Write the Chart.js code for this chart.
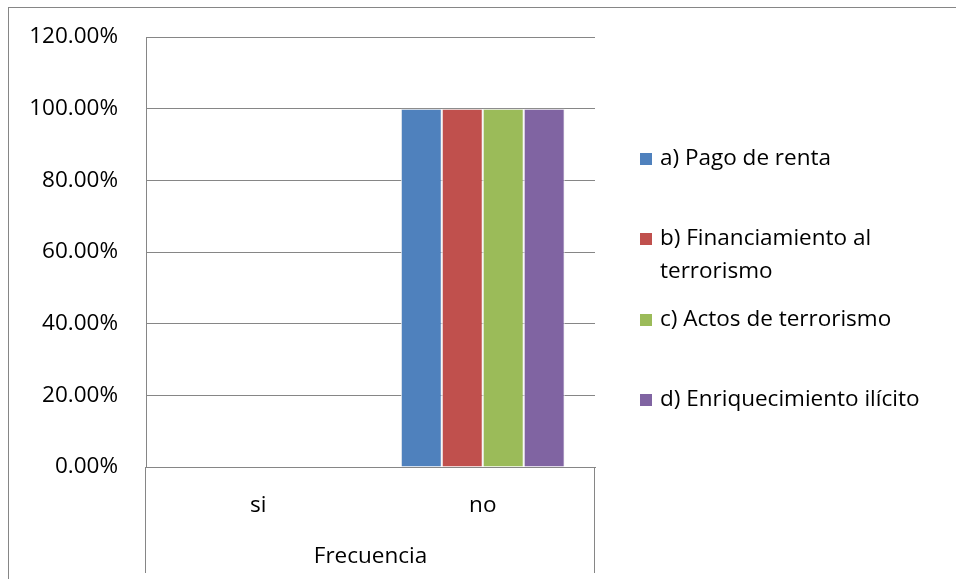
<!DOCTYPE html>
<html lang="es">
<head>
    <meta charset="UTF-8">
    <title>Frecuencia</title>
    <script src="https://cdn.jsdelivr.net/npm/chart.js"></script>
    <style>
        html, body { margin: 0; padding: 0; background: #fff; }
        #wrap { width: 956px; height: 579px; position: relative; }
    </style>
</head>
<body>
    <div id="wrap"><canvas id="chart"></canvas></div>

    <script>
        // datos del grafico
        const categorias = ['si', 'no'];
        const seriesNombres = ['a) Pago de renta', 'b) Financiamiento al terrorismo', 'c) Actos de terrorismo', 'd) Enriquecimiento ilícito'];
        const pagoRenta = [0, 1];
        const financiamiento = [0, 1];
        const actosTerrorismo = [0, 1];
        const enriquecimiento = [0, 1];
        const ticksY = [0, 0.2, 0.4, 0.6, 0.8, 1.0, 1.2];
        const tituloX = 'Frecuencia';

        const colores = ['#4F81BD', '#C0504D', '#9BBB59', '#8064A2'];
        const valores = [pagoRenta, financiamiento, actosTerrorismo, enriquecimiento];
        const fuente = "'Open Sans', sans-serif";
        const tam = 22.5;
        const gris = '#868686';

        // marco, lineas bajo el eje x y leyenda a la derecha
        const extras = {
            id: 'extras',
            afterDraw(chart) {
                const ctx = chart.ctx;
                const a = chart.chartArea;
                ctx.save();
                ctx.strokeStyle = gris;
                ctx.lineWidth = 1;
                ctx.strokeRect(8.5, 7.5, 1200, 1200);
                ctx.beginPath();
                ctx.moveTo(Math.round(a.left) - 0.5, a.bottom);
                ctx.lineTo(Math.round(a.left) - 0.5, 573);
                ctx.moveTo(Math.round(a.right) - 0.5, a.bottom);
                ctx.lineTo(Math.round(a.right) - 0.5, 573);
                ctx.stroke();

                // leyenda
                const ys = [159, 239, 320, 400];
                ctx.font = tam + 'px ' + fuente;
                ctx.textBaseline = 'middle';
                chart.data.datasets.forEach((ds, i) => {
                    const words = ds.label.split(' ');
                    const lines = [];
                    let cur = '';
                    words.forEach(w => {
                        const t = cur ? cur + ' ' + w : w;
                        if (ctx.measureText(t).width > 280 && cur) {
                            lines.push(cur);
                            cur = w;
                        } else {
                            cur = t;
                        }
                    });
                    lines.push(cur);
                    ctx.fillStyle = ds.backgroundColor;
                    ctx.fillRect(640, ys[i] - 6, 12, 12);
                    ctx.fillStyle = '#000';
                    lines.forEach((l, k) => ctx.fillText(l, 660, ys[i] + k * 33));
                });
                ctx.restore();
            }
        };

        new Chart(document.getElementById('chart'), {
            type: 'bar',
            data: {
                labels: categorias,
                datasets: seriesNombres.map((n, i) => ({
                    label: n,
                    data: valores[i],
                    backgroundColor: colores[i],
                    borderColor: '#f2f2f2',
                    borderWidth: 1,
                    categoryPercentage: 0.73,
                    barPercentage: 1
                }))
            },
            options: {
                responsive: true,
                maintainAspectRatio: false,
                animation: false,
                layout: { padding: { left: 0, right: 361, top: 37, bottom: 0 } },
                plugins: { legend: { display: false }, tooltip: { enabled: false } },
                scales: {
                    x: {
                        grid: { display: false, drawTicks: false },
                        border: { color: gris, width: 1 },
                        ticks: { color: '#000', font: { family: fuente, size: tam }, padding: 25 },
                        title: { display: true, text: tituloX, color: '#000', font: { family: fuente, size: tam }, padding: { top: 0, bottom: 9 } },
                        afterFit(s) { s.height = 112; s.paddingLeft = 0; s.paddingRight = 0; }
                    },
                    y: {
                        min: 0,
                        max: 1.2,
                        afterBuildTicks(s) { s.ticks = ticksY.map(v => ({ value: v })); },
                        grid: { color: gris, drawTicks: false },
                        border: { color: gris, width: 1 },
                        ticks: {
                            color: '#000',
                            font: { family: fuente, size: tam },
                            padding: 28,
                            callback: v => (v * 100).toFixed(2) + '%'
                        },
                        afterFit(s) { s.width = 146; s.paddingTop = 0; s.paddingBottom = 0; }
                    }
                }
            },
            plugins: [extras]
        });
    </script>
</body>
</html>
